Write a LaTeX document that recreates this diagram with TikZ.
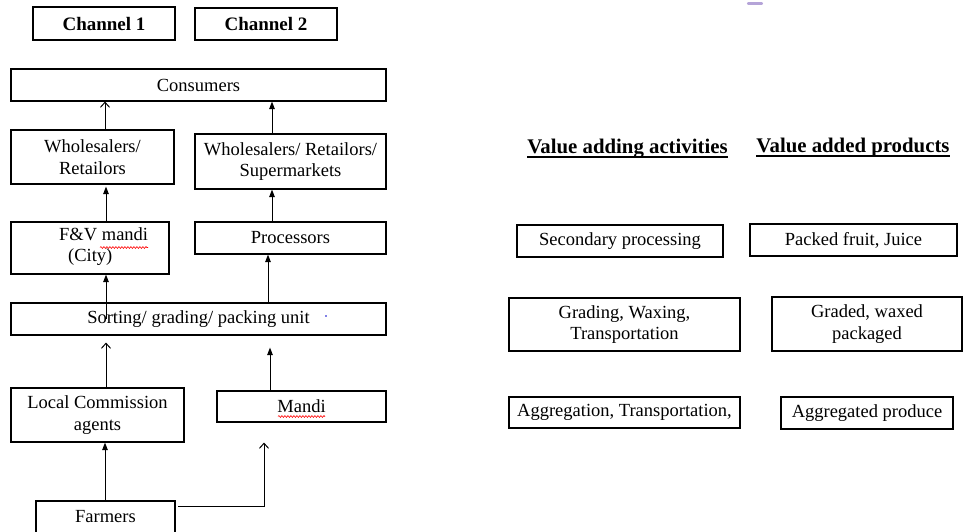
\documentclass[tikz,border=0pt]{standalone}
\usepackage{fontspec}
\setmainfont{Liberation Serif}
\usetikzlibrary{arrows.meta,decorations.pathmorphing}
\begin{document}
\begin{tikzpicture}[x=1pt,y=-1pt,
  box/.style={draw=black, line width=1.1pt, inner sep=2pt, align=center,
    font=\fontsize{18.5}{21.5}\selectfont},
  chanbox/.style={box, font=\fontsize{19}{22}\selectfont\bfseries},
  headtxt/.style={inner sep=0pt, anchor=base, font=\fontsize{20.8}{24}\selectfont\bfseries},
  plaintxt/.style={inner sep=0pt, align=left, font=\fontsize{18.5}{21.5}\selectfont},
  flow/.style={line width=1pt},
  openhead/.style={flow, -{Straight Barb[length=5pt,width=9pt,line width=1pt]}},
  solidhead/.style={flow, -{Triangle[length=7.5pt,width=5.5pt]}},
  spell/.style={red, line width=0.6pt, decorate,
    decoration={snake, amplitude=0.9pt, segment length=3pt}}]
\useasboundingbox (0,0) rectangle (970,531);

% channel labels
\node[chanbox, minimum width=142, minimum height=33] (ch1) at (104,23.5) {Channel 1};
\node[chanbox, minimum width=142, minimum height=32] (ch2) at (266,24) {Channel 2};

% supply chain boxes
\node[box, minimum width=375, minimum height=32] (cons) at (198.5,85) {Consumers};
\node[box, minimum width=163, minimum height=54] (wr) at (92.5,157) {Wholesalers/\\Retailors};
\node[box, minimum width=191, minimum height=55] (wrs) at (290.5,161.5) {Wholesalers/ Retailors/\\Supermarkets};
\node[box, minimum width=158, minimum height=52] (fv) at (90,248) {};
\node[plaintxt, anchor=north west] (fvtxt) at (59,227) {F\&V mandi\\\hspace*{9pt}(City)};
\node[box, minimum width=191, minimum height=32] (proc) at (290.5,238) {Processors};
\node[box, minimum width=375, minimum height=32] (sort) at (198.5,319) {Sorting/ grading/ packing unit};
\node[box, minimum width=173, minimum height=54] (agents) at (97.5,415) {Local Commission\\agents};
\node[box, minimum width=169, minimum height=31] (mandi) at (301.5,406.5) {Mandi};
\node[box, minimum width=139, minimum height=32] (farm) at (105.5,517) {Farmers};

% spelling marks and stray dots
\draw[spell] (100,247.5) -- (148,247.5);
\draw[spell] (278,416.5) -- (325,416.5);
\fill[blue!80!black] (326,316) circle (0.8);
\draw[line width=2.2pt, color={rgb,255:red,150;green,125;blue,200}, opacity=0.7, line cap=round] (748,3.5) -- (762,3.5);

% column positions of the connectors
\coordinate (xa) at (105,0);
\coordinate (xb) at (106,0);
\coordinate (xc) at (272,0);
\coordinate (xd) at (268,0);
\coordinate (xe) at (270,0);
\coordinate (xf) at (264,0);

% channel 1 connectors
\draw[openhead] (xa |- wr.north) -- (xa |- cons.south);
\draw[solidhead, shorten >=2pt] (xb |- fv.north) -- (xb |- wr.south);
\draw[solidhead] (xb |- sort.center) -- (xb |- fv.south);
\draw[openhead, shorten >=7pt] (xb |- agents.north) -- (xb |- sort.south);
\draw[solidhead] (xa |- farm.north) -- (xa |- agents.south);

% channel 2 connectors
\draw[solidhead] (xc |- wrs.north) -- (xc |- cons.south);
\draw[solidhead] (xc |- proc.north) -- (xc |- wrs.south);
\draw[solidhead] (xd |- sort.north) -- (xd |- proc.south);
\draw[solidhead, shorten >=12pt] (xe |- mandi.north) -- (xe |- sort.south);
\coordinate (fout) at (178,506);
\draw[openhead, shorten >=20pt] (fout) -| (xf |- mandi.south);

% value chain columns
\node[headtxt] (h1) at (627.5,153) {Value adding activities};
\node[headtxt] (h2) at (853,152) {Value added products};
\draw[line width=1.6pt] ([yshift=-4pt]h1.base west) -- ([yshift=-4pt]h1.base east);
\draw[line width=1.6pt] ([yshift=-4pt]h2.base west) -- ([yshift=-4pt]h2.base east);

\node[box, minimum width=206, minimum height=32] (sec) at (620,241) {Secondary processing};
\node[box, minimum width=207, minimum height=32] (pack) at (853.5,240) {Packed fruit, Juice};
\node[box, minimum width=231, minimum height=53] (grad) at (624.5,324.5) {Grading, Waxing,\\Transportation};
\node[box, minimum width=190, minimum height=54] (gwp) at (867,324) {Graded, waxed\\packaged};
\node[box, minimum width=231, minimum height=31] (agg) at (624.5,412.5) {Aggregation, Transportation,};
\node[box, minimum width=172, minimum height=32] (aggp) at (867,413) {Aggregated produce};
\end{tikzpicture}
\end{document}
